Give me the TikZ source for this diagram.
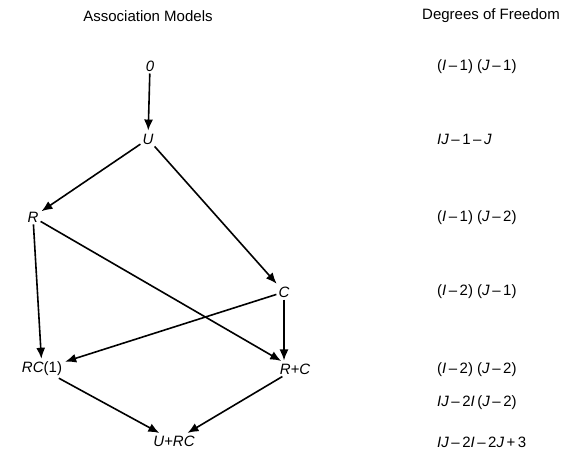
\documentclass[tikz,border=0pt]{standalone}
\usepackage{fontspec}
\setmainfont{Liberation Sans}
\usetikzlibrary{arrows.meta}
\begin{document}
\begin{tikzpicture}[x=1pt,y=-1pt,
  model/.style={font=\fontsize{15}{17}\selectfont\itshape, inner sep=2pt},
  head/.style={font=\fontsize{15}{17}\selectfont},
  dof/.style={font=\fontsize{15}{17}\selectfont, anchor=west, inner sep=0pt},
  conn/.style={line width=1.6pt, -{Latex[length=11pt,width=9pt]}, shorten >=1pt}]
\useasboundingbox (0,0) rectangle (569,454);
\node[head] (h1) at (148,16) {Association Models};
\node[head] (h2) at (491,16) {Degrees of Freedom};
\node[model] (n0) at (150,66) {0};
\node[model] (U) at (148,139) {U};
\node[model] (R) at (33,217) {R};
\node[model] (C) at (284,292) {C};
\node[model] (RC) at (42,369) {RC\textup{(1)}};
\node[model] (RpC) at (295,369) {R+C};
\node[model] (UpRC) at (174,441) {U+RC};
\node[dof] (d1) at (437,67) {(\textit{I}\,–\,1) (\textit{J}\,–\,1)};
\node[dof] (d2) at (437,139) {\textit{IJ}\,–\,1\,–\,\textit{J}};
\node[dof] (d3) at (437,218) {(\textit{I}\,–\,1) (\textit{J}\,–\,2)};
\node[dof] (d4) at (437,292) {(\textit{I}\,–\,2) (\textit{J}\,–\,1)};
\node[dof] (d5) at (437,370) {(\textit{I}\,–\,2) (\textit{J}\,–\,2)};
\node[dof] (d6) at (437,403) {\textit{IJ}\,–\,2\textit{I}\,(\textit{J}\,–\,2)};
\node[dof] (d7) at (437,442) {\textit{IJ}\,–\,2\textit{I}\,–\,2\textit{J}\,+\,3};
\draw[conn] (n0) -- (U);
\draw[conn] (U) -- (R);
\draw[conn] (U) -- (C);
\draw[conn] (R) -- (RC);
\draw[conn] (R) -- (RpC);
\draw[conn] (C) -- (RC);
\draw[conn] (C.south) -- (C.south |- RpC.north);
\draw[conn] (RC) -- (UpRC);
\draw[conn] (RpC) -- (UpRC);
\end{tikzpicture}
\end{document}
